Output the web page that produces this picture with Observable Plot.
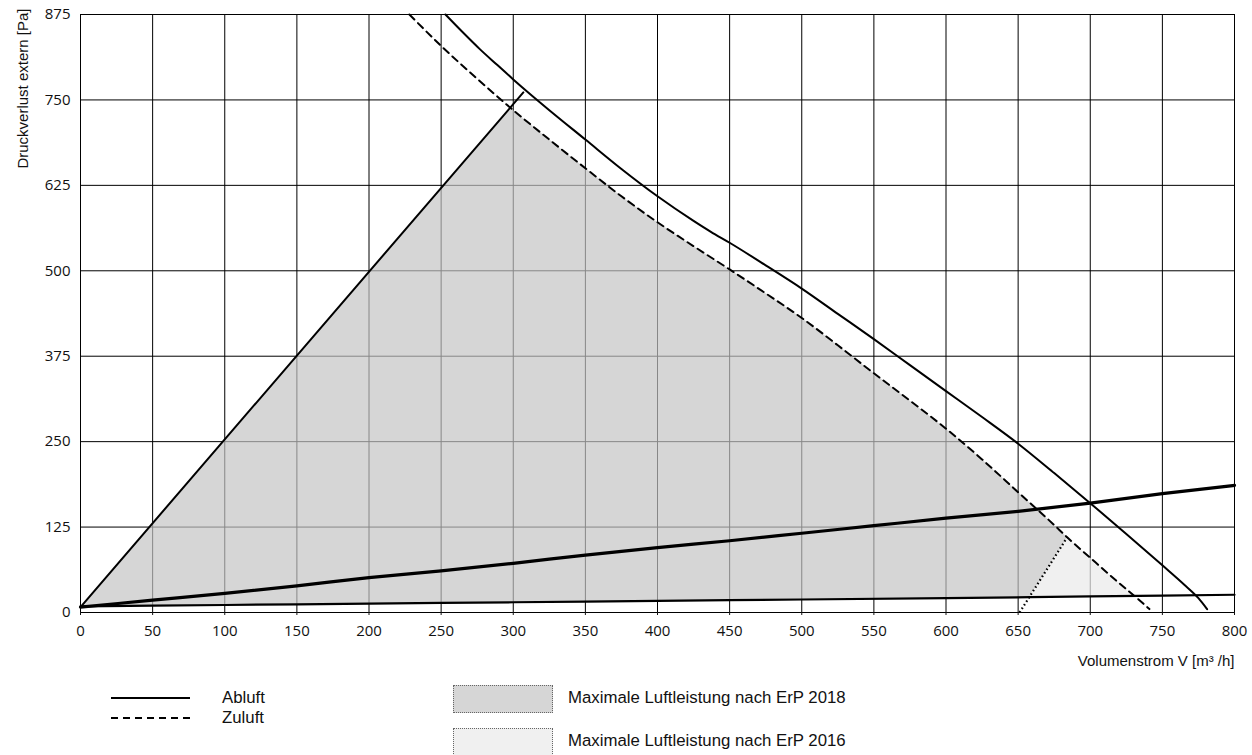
<!DOCTYPE html>
<html>
<head>
<meta charset="utf-8">
<script src="https://cdn.jsdelivr.net/npm/d3@7"></script>
<script src="https://cdn.jsdelivr.net/npm/@observablehq/plot@0.6"></script>
<style>
  html, body { margin: 0; padding: 0; background: #fff; }
  #wrap { position: relative; width: 1252px; height: 755px; overflow: hidden; }
  .lg { position: absolute; font-family: "Liberation Sans Narrow", "Liberation Sans", sans-serif; font-size: 16.8px; color: #111; line-height: 1; white-space: nowrap; }
  .sw { position: absolute; box-sizing: border-box; border: 1px dotted #666; }
</style>
</head>
<body>
<div id="wrap"></div>
<script>
// ---- data ----
const xTicks = [0, 50, 100, 150, 200, 250, 300, 350, 400, 450, 500, 550, 600, 650, 700, 750, 800];
const yTicks = [0, 125, 250, 375, 500, 625, 750, 875];

// Abluft (exhaust) fan curve, solid
const abluft = [[253,875],[265,849],[277,824],[289,801],[300,780],[312,758],[325,735],[350,692],[375,649],[400,609],[425,573],[437,557],[450,541],[475,508],[500,474],[525,437],[550,400],[575,362],[600,324],[625,286],[650,247],[675,204],[700,160],[725,115],[750,69],[765,41],[775,21],[781,5]];
// Zuluft (supply) fan curve, dashed
const zuluft = [[228,875],[250,829],[275,781],[300,735],[325,692],[350,650],[375,609],[400,571],[425,536],[450,502],[475,467],[500,431],[525,391],[550,350],[575,310],[600,269],[625,224],[650,176],[675,128],[684,110],[700,80],[720,43],[733,20],[741,5]];
// steep limit line
const steep = [[0,8],[307,761]];
// system curves
const systemHigh = [[0,8],[50,18],[100,28],[150,39],[200,51],[250,61],[300,72],[350,84],[400,95],[450,105],[500,116],[550,127],[600,138],[650,148],[700,160],[750,174],[800,186]];
const systemLow = [[0,9],[100,11],[200,13],[300,15],[400,17],[500,19],[600,21],[700,23.5],[800,26]];
// ErP 2016 boundary, dotted
const erpBoundary = [[651,0],[684,110]];
// corner points of the shaded regions
const cornerSteepZuluft = [298, 739];
const cornerDottedLow = [657.6, 22.5];
const cornerZuluftLow = [730.5, 24.3];

const legendLines = ["Abluft", "Zuluft"];
const legendAreas = ["Maximale Luftleistung nach ErP 2018", "Maximale Luftleistung nach ErP 2016"];

// build shaded polygons from the curves above
const topX = erpBoundary[1][0];
const erp2018 = [
  systemLow[0],
  cornerSteepZuluft,
  ...zuluft.filter(([x]) => x > cornerSteepZuluft[0] && x <= topX),
  cornerDottedLow,
  ...systemLow.filter(([x]) => x < cornerDottedLow[0]).reverse()
];
const erp2016 = [
  erpBoundary[1],
  ...zuluft.filter(([x]) => x > topX && x < cornerZuluftLow[0]),
  cornerZuluftLow,
  ...systemLow.filter(([x]) => x > cornerDottedLow[0] && x < cornerZuluftLow[0]).reverse(),
  cornerDottedLow
];

const toObj = a => a.map(([x, y]) => ({x, y}));
const narrow = '"Liberation Sans Narrow", "Liberation Sans", sans-serif';

const chart = Plot.plot({
  width: 1252,
  height: 680,
  marginLeft: 80,
  marginRight: 18,
  marginTop: 14,
  marginBottom: 68,
  style: { fontFamily: '"Open Sans", sans-serif', fontSize: "15px", color: "#111", background: "#fff", overflow: "visible" },
  x: { domain: [0, 800], ticks: xTicks, label: null },
  y: { domain: [0, 875], ticks: yTicks, label: null },
  marks: [
    Plot.ruleX(xTicks, { stroke: "#000", strokeWidth: 1 }),
    Plot.ruleY(yTicks, { stroke: "#000", strokeWidth: 1 }),
    Plot.line(toObj(erp2018), { x: "x", y: "y", fill: "rgb(196,196,196)", fillOpacity: 0.69, stroke: "none", curve: "linear" }),
    Plot.line(toObj(erp2016), { x: "x", y: "y", fill: "rgb(234,234,234)", fillOpacity: 0.72, stroke: "none", curve: "linear" }),
    Plot.line(toObj(systemLow), { x: "x", y: "y", stroke: "#000", strokeWidth: 2.2, curve: "monotone-x" }),
    Plot.line(toObj(systemHigh), { x: "x", y: "y", stroke: "#000", strokeWidth: 3.2, curve: "monotone-x" }),
    Plot.line(toObj(steep), { x: "x", y: "y", stroke: "#000", strokeWidth: 2 }),
    Plot.line(toObj(abluft), { x: "x", y: "y", stroke: "#000", strokeWidth: 2, curve: "monotone-x" }),
    Plot.line(toObj(zuluft), { x: "x", y: "y", stroke: "#000", strokeWidth: 2, strokeDasharray: "7,5", curve: "monotone-x" }),
    Plot.line(toObj(erpBoundary), { x: "x", y: "y", stroke: "#000", strokeWidth: 2.2, strokeDasharray: "1.6,2.6", strokeLinecap: "butt" }),
    Plot.frame({ stroke: "#000", strokeWidth: 1 }),
    Plot.axisX({ ticks: xTicks, tickSize: 3, tickPadding: 10, label: null }),
    Plot.axisY({ ticks: yTicks, tickSize: 0, tickPadding: 10, label: null }),
    Plot.text(["Volumenstrom V [m³ /h]"], { frameAnchor: "bottom-right", dy: 53, textAnchor: "end", fontFamily: narrow, fontSize: 15 }),
    Plot.text(["Druckverlust extern [Pa]"], { frameAnchor: "top-left", dx: -63, dy: -6, rotate: -90, textAnchor: "end", fontFamily: narrow, fontSize: 15 })
  ]
});

const wrap = document.getElementById("wrap");
chart.style.position = "absolute";
chart.style.left = "0px";
chart.style.top = "0px";
wrap.appendChild(chart);

// legend (below the plot)
function addLegendLine(label, top, dashed) {
  const svg = d3.create("svg").attr("width", 80).attr("height", 6)
    .style("position", "absolute").style("left", "111px").style("top", (top - 3) + "px");
  svg.append("line").attr("x1", 0).attr("x2", 79).attr("y1", 3).attr("y2", 3)
    .attr("stroke", "#000").attr("stroke-width", 2).attr("stroke-dasharray", dashed ? "7,5" : null);
  wrap.appendChild(svg.node());
  const t = document.createElement("div");
  t.className = "lg"; t.textContent = label;
  t.style.left = "222px"; t.style.top = (top - 8) + "px";
  wrap.appendChild(t);
}
addLegendLine(legendLines[0], 698, false);
addLegendLine(legendLines[1], 718, true);

function addLegendArea(label, top, fill) {
  const b = document.createElement("div");
  b.className = "sw";
  b.style.left = "453px"; b.style.top = (top - 13) + "px";
  b.style.width = "100px"; b.style.height = "28px"; b.style.background = fill;
  wrap.appendChild(b);
  const t = document.createElement("div");
  t.className = "lg"; t.textContent = label;
  t.style.left = "568px"; t.style.top = (top - 8) + "px";
  wrap.appendChild(t);
}
addLegendArea(legendAreas[0], 698, "#d6d6d6");
addLegendArea(legendAreas[1], 741, "#f0f0f0");
</script>
</body>
</html>
